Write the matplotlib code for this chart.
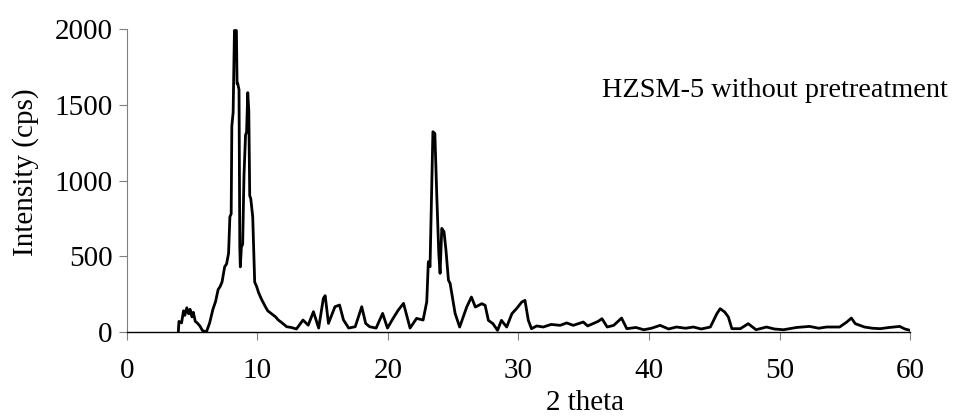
import matplotlib
matplotlib.use("Agg")
import matplotlib.pyplot as plt

# XRD pattern (2 theta, counts per second)
two_theta = [
    3.95, 4.0, 4.2, 4.35, 4.45, 4.6, 4.75, 4.85, 5.0, 5.1, 5.25, 5.4, 5.6, 5.8, 6.1,
    6.35, 6.6, 6.8, 7.0, 7.15, 7.3, 7.5, 7.65, 7.8, 7.9, 8.0, 8.05, 8.15, 8.25, 8.4,
    8.45, 8.5, 8.6, 8.66, 8.7, 8.78, 8.88, 8.98, 9.1, 9.18, 9.27, 9.35, 9.42, 9.5,
    9.65, 9.8, 9.95, 10.1, 10.3, 10.6, 10.8, 11.1, 11.4, 11.6, 11.9, 12.25, 12.6, 13.0,
    13.5, 13.9, 14.3, 14.7, 15.06, 15.2, 15.45, 15.95, 16.3, 16.6, 17.0, 17.5, 18.0,
    18.3, 18.6, 19.1, 19.6, 19.97, 20.4, 20.8, 21.2, 21.4, 21.7, 22.2, 22.7, 22.98,
    23.1, 23.23, 23.36, 23.45, 23.6, 23.75, 23.9, 24.0, 24.13, 24.3, 24.45, 24.64,
    24.77, 25.15, 25.5, 26.04, 26.4, 26.7, 27.2, 27.45, 27.7, 28.05, 28.4, 28.7, 29.1,
    29.5, 29.85, 30.26, 30.5, 30.76, 31.0, 31.4, 31.9, 32.5, 33.2, 33.7, 34.2, 34.97,
    35.3, 35.7, 36.1, 36.4, 36.8, 37.3, 37.9, 38.3, 39.0, 39.6, 40.2, 40.85, 41.5,
    42.1, 42.8, 43.4, 44.0, 44.7, 45.2, 45.45, 45.8, 46.08, 46.35, 47.0, 47.6, 48.2,
    49.0, 49.6, 50.3, 51.3, 52.3, 53.0, 53.6, 54.6, 55.15, 55.5, 55.8, 56.5, 57.1,
    57.7, 58.4, 59.2, 59.6, 60.0,
]
intensity = [
    0, 70, 60, 140, 110, 160, 120, 150, 100, 130, 70, 60, 40, 10, 0,
    60, 150, 200, 280, 300, 330, 430, 450, 520, 760, 780, 1360, 1450, 1990, 1990,
    1640, 1640, 1600, 560, 430, 560, 580, 1030, 1300, 1320, 1580, 1460, 900, 880,
    760, 330, 300, 260, 220, 170, 140, 120, 100, 80, 60, 35, 30, 20,
    79, 45, 134, 26, 222, 240, 57, 167, 178, 80, 26, 35, 167,
    57, 35, 26, 123, 26, 90, 145, 189, 123, 26, 90, 79, 200,
    464, 431, 959, 1322, 1310, 893, 520, 387, 684, 662, 541, 343,
    320, 123, 33, 165, 231, 165, 187, 176, 77, 55, 11, 77, 33,
    121, 154, 198, 209, 77, 22, 40, 33, 50, 44, 60, 44, 66,
    40, 55, 70, 88, 33, 44, 92, 22, 30, 15, 25, 44, 20,
    33, 25, 33, 20, 33, 121, 154, 132, 99, 22, 22, 55, 15,
    33, 20, 15, 30, 37, 25, 33, 33, 66, 92, 55, 33, 25,
    22, 30, 37, 20, 11,
]

plt.rcParams["font.family"] = ["Liberation Serif", "DejaVu Serif"]

fig = plt.figure(figsize=(9.55, 4.19), dpi=100)
ax = fig.add_axes([0.1327, 0.2076, 0.8203, 0.7232])

ax.plot(two_theta, intensity, color="black", linewidth=2.0)

ax.set_xlim(0, 60)
ax.set_ylim(0, 2000)
ax.set_xticks(range(0, 61, 10))
ax.set_yticks(range(0, 2001, 500))

for side in ["top", "right"]:
    ax.spines[side].set_visible(False)
ax.spines["left"].set_color("#808080")
ax.spines["left"].set_linewidth(0.8)
ax.spines["bottom"].set_color("black")
ax.spines["bottom"].set_linewidth(1.0)
ax.tick_params(axis="both", direction="out", length=6, width=0.8,
               color="#808080", labelsize=21)
ax.tick_params(axis="y", pad=4)
ax.tick_params(axis="x", pad=13)

ax.set_xlabel("2 theta", fontsize=21)
ax.xaxis.set_label_coords(0.585, -0.19)
ax.set_ylabel("Intensity (cps)", fontsize=21)
ax.yaxis.set_label_coords(-0.112, 0.528)

fig.text(0.630, 0.769, "HZSM-5 without pretreatment", fontsize=20.3,
         ha="left", va="baseline")

fig.savefig("out.png", dpi=100)
